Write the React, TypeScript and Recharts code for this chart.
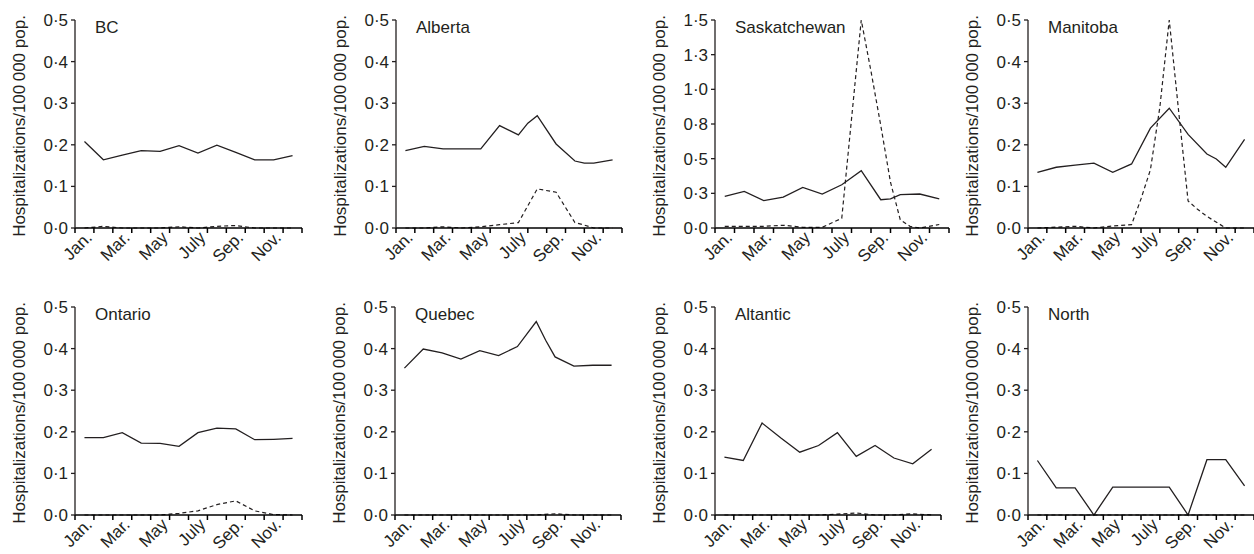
import { LineChart, Line, XAxis, YAxis } from 'recharts'

const INK = '#231f20'
const FONT = '"Liberation Sans", Arial, Helvetica, sans-serif'
const Y_TITLE = 'Hospitalizations/100\u2009000 pop.'

// x axis: month boundaries carry the tick marks, labels sit mid-month
const MONTH_LABELS = ['Jan.', 'Mar.', 'May', 'July', 'Sep.', 'Nov.']
const LABEL_AT = [0.5, 2.5, 4.5, 6.5, 8.5, 10.5]
const BOUNDS = [0, 1, 2, 3, 4, 5, 6, 7, 8, 9, 10, 11, 12]
const X_TICKS = [...BOUNDS, ...LABEL_AT].sort((a, b) => a - b)

const TICKS_05 = [0, 0.1, 0.2, 0.3, 0.4, 0.5]
const TICKS_15 = [0, 0.25, 0.5, 0.75, 1, 1.25, 1.5]

// monthly values Jan..Dec (solid = main, dashed = second)
const bcMain = [0.208, 0.164, 0.175, 0.186, 0.184, 0.198, 0.18, 0.199, 0.182, 0.164, 0.164, 0.174]
const bcSecond = [0, 0.004, 0, 0, 0, 0.003, 0, 0.004, 0.006, 0, 0, 0]

const albertaMain = [0.186, 0.196, 0.19, 0.19, 0.19, 0.246, 0.224, 0.27, 0.202, 0.161, 0.156, 0.164]
const albertaSecond = [0, 0, 0.003, 0, 0.003, 0.008, 0.013, 0.094, 0.086, 0.013, 0, 0]

const saskMain = [0.228, 0.264, 0.197, 0.223, 0.293, 0.245, 0.312, 0.413, 0.204, 0.24, 0.245, 0.21]
const saskSecond = [0.012, 0.012, 0.012, 0.02, 0.005, 0.005, 0.07, 1.5, 0.74, 0.06, 0, 0.025]

const manitobaMain = [0.134, 0.146, 0.151, 0.156, 0.134, 0.154, 0.24, 0.288, 0.225, 0.178, 0.146, 0.213]
const manitobaSecond = [0, 0.002, 0.004, 0, 0.005, 0.008, 0.14, 0.5, 0.065, 0.028, 0, 0]

const ontarioMain = [0.186, 0.186, 0.198, 0.173, 0.172, 0.165, 0.198, 0.209, 0.207, 0.181, 0.182, 0.184]
const ontarioSecond = [0, 0, 0, 0, 0, 0.004, 0.01, 0.025, 0.034, 0.01, 0.001, 0]

const quebecMain = [0.353, 0.399, 0.39, 0.375, 0.395, 0.383, 0.405, 0.465, 0.38, 0.358, 0.36, 0.36]
const quebecSecond = [0, 0, 0, 0, 0, 0, 0, 0, 0.003, 0, 0, 0]

const atlanticMain = [0.139, 0.131, 0.221, 0.185, 0.151, 0.167, 0.198, 0.141, 0.167, 0.137, 0.123, 0.158]
const atlanticSecond = [0, 0, 0, 0, 0, 0, 0.002, 0.005, 0, 0, 0.003, 0]

const northMain = [0.131, 0.065, 0.065, 0, 0.067, 0.067, 0.067, 0.067, 0, 0.133, 0.133, 0.07]
const northSecond = [0, 0, 0, 0, 0, 0, 0, 0, 0, 0, 0, 0]

// extra vertices that fall on a month boundary (key = boundary, 1..11)
type Mid = Record<number, number>
const albertaMainMid: Mid = { 7: 0.252, 10: 0.156 }
const albertaSecondMid: Mid = { 10: 0.007 }
const saskMainMid: Mid = { 9: 0.21 }
const saskSecondMid: Mid = { 8: 1.13, 9: 0.33, 10: 0.012 }
const manitobaMainMid: Mid = { 10: 0.166 }
const manitobaSecondMid: Mid = { 6: 0.07, 7: 0.29, 8: 0.28, 9: 0.045 }
const ontarioSecondMid: Mid = { 5: 0.002 }
const quebecMainMid: Mid = { 8: 0.42 }

type Pt = { x: number; v: number }

// one list per series: month centres plus any boundary vertices, in x order
function toPoints(monthly: number[], mid: Mid = {}): Pt[] {
  const pts: Pt[] = monthly.map((v, i) => ({ x: i + 0.5, v }))
  Object.keys(mid).forEach((k) => pts.push({ x: Number(k), v: mid[Number(k)] }))
  return pts.sort((a, b) => a.x - b.x)
}

interface Panel {
  name: string
  main: Pt[]
  second: Pt[]
  ticks: number[]
  left: number
  top: number
  plotWidth: number
}

const panels: Panel[] = [
  { name: 'BC', main: toPoints(bcMain), second: toPoints(bcSecond), ticks: TICKS_05, left: 75, top: 0, plotWidth: 227 },
  { name: 'Alberta', main: toPoints(albertaMain, albertaMainMid), second: toPoints(albertaSecond, albertaSecondMid), ticks: TICKS_05, left: 396, top: 0, plotWidth: 226 },
  { name: 'Saskatchewan', main: toPoints(saskMain, saskMainMid), second: toPoints(saskSecond, saskSecondMid), ticks: TICKS_15, left: 715, top: 0, plotWidth: 234 },
  { name: 'Manitoba', main: toPoints(manitobaMain, manitobaMainMid), second: toPoints(manitobaSecond, manitobaSecondMid), ticks: TICKS_05, left: 1028, top: 0, plotWidth: 226 },
  { name: 'Ontario', main: toPoints(ontarioMain), second: toPoints(ontarioSecond, ontarioSecondMid), ticks: TICKS_05, left: 75, top: 287, plotWidth: 227 },
  { name: 'Quebec', main: toPoints(quebecMain, quebecMainMid), second: toPoints(quebecSecond), ticks: TICKS_05, left: 395, top: 287, plotWidth: 226 },
  { name: 'Altantic', main: toPoints(atlanticMain), second: toPoints(atlanticSecond), ticks: TICKS_05, left: 715, top: 287, plotWidth: 226 },
  { name: 'North', main: toPoints(northMain), second: toPoints(northSecond), ticks: TICKS_05, left: 1028, top: 287, plotWidth: 226 },
]

const fmt = (v: number) => v.toFixed(1).replace('.', '\u00b7')

const TICK_MARGIN = 2

// boundary values get a short tick mark, mid-month values get the rotated label
// eslint-disable-next-line @typescript-eslint/no-explicit-any
const MonthTick = (props: any) => {
  const { x, y, payload } = props
  const v = Number(payload.value)
  const i = LABEL_AT.indexOf(v)
  if (i >= 0) {
    return (
      <text x={x} y={y} dy="0.71em" textAnchor="end" transform={`rotate(-45 ${x} ${y})`}
        fontSize={17} fill={INK} fontFamily={FONT}>
        {MONTH_LABELS[i]}
      </text>
    )
  }
  const y0 = y - TICK_MARGIN
  return <path d={`M${x},${y0}L${x},${y0 + 5}`} stroke="#000" strokeWidth={1.5} fill="none" />
}

function RegionChart({ p }: { p: Panel }) {
  const right = p.left + p.plotWidth + 4 > 1254 ? 0 : 4
  const width = 75 + p.plotWidth + right
  return (
    <div style={{ position: 'absolute', left: p.left - 75, top: p.top }}>
      <LineChart width={width} height={270} margin={{ top: 20, right, bottom: 0, left: 0 }}>
        <XAxis dataKey="x" type="number" domain={[0, 12]} ticks={X_TICKS} interval={0}
          height={42} tickSize={0} tickMargin={TICK_MARGIN} tickLine={false}
          axisLine={{ stroke: '#000', strokeWidth: 1.5 }} tick={<MonthTick />} />
        <YAxis domain={[0, p.ticks[p.ticks.length - 1]]} ticks={p.ticks} interval={0} width={75}
          tickSize={4} tickMargin={3} tickFormatter={fmt}
          tick={{ fontSize: 17, fill: INK, fontFamily: FONT }}
          axisLine={{ stroke: INK, strokeWidth: 1.3 }} tickLine={{ stroke: INK, strokeWidth: 1.3 }} />
        <Line data={p.second} type="linear" dataKey="v" stroke={INK} strokeWidth={1.2}
          strokeDasharray="4 3" dot={false} isAnimationActive={false} />
        <Line data={p.main} type="linear" dataKey="v" stroke={INK} strokeWidth={1.3}
          dot={false} isAnimationActive={false} />
      </LineChart>
      <div style={{ position: 'absolute', left: 18.7, top: 126, transform: 'translate(-50%, -50%) rotate(-90deg)',
        fontSize: 17, lineHeight: '17px', color: INK, fontFamily: FONT, whiteSpace: 'nowrap' }}>
        {Y_TITLE}
      </div>
      <div style={{ position: 'absolute', left: 95, top: 18.5, fontSize: 17, lineHeight: '17px',
        color: INK, fontFamily: FONT, whiteSpace: 'nowrap' }}>
        {p.name}
      </div>
    </div>
  )
}

export default function App() {
  return (
    <div style={{ position: 'absolute', left: 0, top: 0, width: 1254, height: 554,
      background: '#fff', fontFamily: FONT }}>
      {panels.map((p) => <RegionChart key={p.name} p={p} />)}
    </div>
  )
}
